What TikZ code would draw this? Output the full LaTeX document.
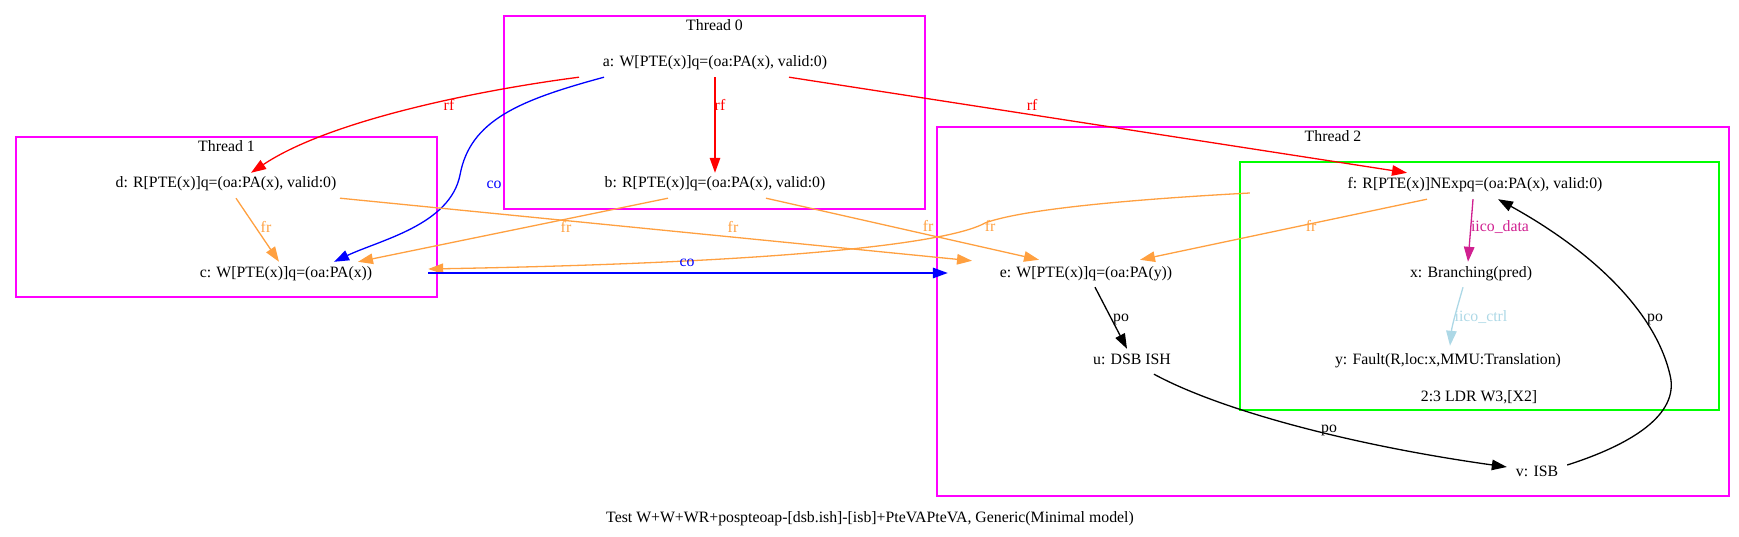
\documentclass[tikz,border=0pt]{standalone}
\usepackage{fontspec}
\setmainfont{Liberation Serif}
\usetikzlibrary{arrows.meta}
\definecolor{threadmag}{RGB}{255,0,255}
\definecolor{instrgreen}{RGB}{0,255,0}
\definecolor{frorange}{RGB}{255,160,64}
\definecolor{violetred}{RGB}{208,32,144}
\definecolor{ctrlblue}{RGB}{173,216,230}
\begin{document}
\begin{tikzpicture}[x=1pt,y=-1pt,
    ev/.style={inner sep=0pt,minimum height=28pt,text height=12pt,text depth=4pt,font=\fontsize{15.8}{19}\selectfont},
    lbl/.style={inner sep=0pt,text height=12pt,text depth=4pt,font=\fontsize{15.8}{19}\selectfont},
    cluster/.style={draw=threadmag,line width=2pt},
    edge/.style={line width=1.3pt,-{Triangle[length=15pt,width=10.5pt]}},
    rf/.style={edge,red},
    co/.style={edge,blue},
    fr/.style={edge,frorange},
    po/.style={edge,black}]
  \useasboundingbox (0,0) rectangle (1739,537);
  % clusters
  \foreach \n/\xa/\ya/\xb/\yb in {0/504/16/925/209,1/16/137/437/297,2/937/127/1729/496}
  {
    \draw[cluster] (\xa,\ya) rectangle (\xb,\yb);
    \node[lbl] (thread\n) at ({(\xa+\xb)/2},{\ya+11}) {Thread \n};
  }
  \draw[draw=instrgreen,line width=2pt] (1240,162) rectangle (1719,410);
  \node[lbl] (instr) at (1479,397) {2:3 LDR W3,[X2]};
  % events
  \node[ev] (a) at (715,63) {a: W[PTE(x)]q=(oa:PA(x), valid:0)};
  \node[ev] (b) at (715,184) {b: R[PTE(x)]q=(oa:PA(x), valid:0)};
  \node[ev] (d) at (226,184) {d: R[PTE(x)]q=(oa:PA(x), valid:0)};
  \node[ev,minimum width=284pt] (c) at (286,273) {c: W[PTE(x)]q=(oa:PA(x))};
  \node[ev,minimum width=276pt] (e) at (1086,273) {e: W[PTE(x)]q=(oa:PA(y))};
  \node[ev,minimum width=450pt] (f) at (1475,185) {f: R[PTE(x)]NExpq=(oa:PA(x), valid:0)};
  \node[ev] (x) at (1471,273) {x: Branching(pred)};
  \node[ev] (y) at (1448,360) {y: Fault(R,loc:x,MMU:Translation)};
  \node[ev] (u) at (1132,360) {u: DSB ISH};
  \node[ev,minimum width=60pt] (v) at (1537,472) {v: ISB};
  % relations
  \draw[rf] ([xshift=-136pt]a.south) .. controls (480,90) and (330,120) .. ([xshift=25pt,yshift=-3pt]d.north) node[lbl,at={(449,107)}] {rf};
  \draw[rf] (a.south) -- ([yshift=-3pt]b.north) node[lbl,at={(720,107)}] {rf};
  \draw[rf] ([xshift=74pt]a.south) -- ([xshift=-68pt,yshift=-2pt]f.north) node[lbl,at={(1032,107)}] {rf};
  \draw[co] ([xshift=-111pt]a.south) .. controls (520,100) and (470,120) .. (460,175) .. controls (450,225) and (380,240) .. ([xshift=48pt,yshift=-3pt]c.north) node[lbl,at={(494,185)}] {co};
  \draw[fr] ([xshift=10pt]d.south) -- ([xshift=-7pt,yshift=-3pt]c.north) node[lbl,at={(266,229)}] {fr};
  \draw[fr] ([xshift=114pt]d.south) -- ([xshift=-114pt,yshift=-2pt]e.north) node[lbl,at={(733,229)}] {fr};
  \draw[fr] ([xshift=-47pt]b.south) -- ([xshift=72pt,yshift=-3pt]c.north) node[lbl,at={(566,229)}] {fr};
  \draw[fr] ([xshift=51pt]b.south) -- ([xshift=-47pt,yshift=-1pt]e.north) node[lbl,at={(928,228)}] {fr};
  \draw[fr] ([yshift=-8pt]f.west) .. controls (1120,200) and (1020,210) .. (985,223) .. controls (955,240) and (820,262) .. ([yshift=4pt]c.east) node[lbl,at={(990,228)}] {fr};
  \draw[fr] ([xshift=-48pt]f.south) -- ([xshift=54pt,yshift=-1pt]e.north) node[lbl,at={(1311,228)}] {fr};
  \draw[co,line width=1.6pt] (c.east) -- (e.west) node[lbl,at={(687,262)}] {co};
  \draw[edge,violetred] ([xshift=-2pt]f.south) -- ([xshift=-3pt,yshift=-3pt]x.north) node[lbl,at={(1500,228)}] {iico\_data};
  \draw[edge,ctrlblue] ([xshift=-8pt]x.south) .. controls (1458,305) and (1452,325) .. ([xshift=2pt]y.north) node[lbl,at={(1481,317)}] {iico\_ctrl};
  \draw[po] ([xshift=9pt]e.south) -- ([xshift=-5pt,yshift=-3pt]u.north) node[lbl,at={(1121,317)}] {po};
  \draw[po] ([xshift=22pt]u.south) .. controls (1220,410) and (1350,445) .. ([yshift=5pt]v.west) node[lbl,at={(1329,428)}] {po};
  \draw[po] ([yshift=7pt]v.east) .. controls (1630,445) and (1680,415) .. (1670,375) .. controls (1655,310) and (1590,250) .. ([xshift=23pt]f.south) node[lbl,at={(1655,317)}] {po};
  \node[lbl] (title) at (870,518) {Test W+W+WR+pospteoap-[dsb.ish]-[isb]+PteVAPteVA, Generic(Minimal model)};
\end{tikzpicture}
\end{document}
